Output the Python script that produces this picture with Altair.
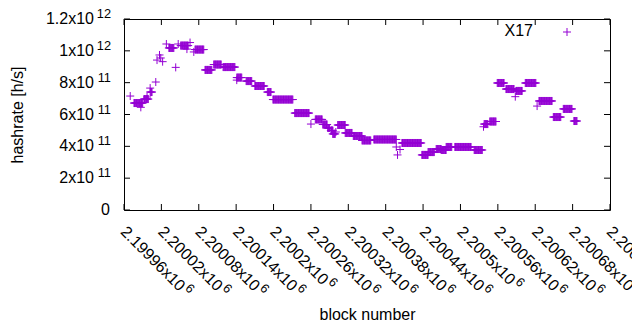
import altair as alt
import pandas as pd

# ---- data: runs of blocks sharing one hashrate ----
run_start = [2199970, 2199976, 2199987, 2199992, 2199997, 2200002, 2200002, 2200011, 2200013, 2200017,
             2200019, 2200022, 2200028, 2200032, 2200043, 2200047, 2200051, 2200061, 2200066, 2200072,
             2200074, 2200090, 2200104, 2200119, 2200141, 2200141, 2200156, 2200170, 2200190, 2200199,
             2200234, 2200260, 2200267, 2200279, 2200287, 2200292, 2200295, 2200300, 2200303, 2200315,
             2200328, 2200342, 2200361, 2200397, 2200399, 2200403, 2200406, 2200438, 2200448, 2200461,
             2200469, 2200477, 2200491, 2200522, 2200537, 2200538, 2200547, 2200559, 2200573, 2200588,
             2200589, 2200604, 2200623, 2200626, 2200649, 2200665, 2200682]
run_end = [2199970, 2199990, 2199987, 2199999, 2199997, 2200005, 2200002, 2200011, 2200013, 2200017,
           2200019, 2200022, 2200028, 2200040, 2200043, 2200047, 2200063, 2200061, 2200066, 2200072,
           2200088, 2200101, 2200116, 2200138, 2200149, 2200141, 2200165, 2200185, 2200196, 2200231,
           2200257, 2200260, 2200278, 2200286, 2200290, 2200295, 2200299, 2200300, 2200315, 2200326,
           2200342, 2200356, 2200397, 2200397, 2200399, 2200403, 2200437, 2200448, 2200458, 2200469,
           2200477, 2200486, 2200517, 2200535, 2200537, 2200544, 2200557, 2200570, 2200586, 2200588,
           2200599, 2200621, 2200623, 2200647, 2200661, 2200679, 2200687]
run_value = [7.16e11, 6.72e11, 6.45e11, 6.97e11, 7.10e11, 7.41e11, 7.66e11, 8.04e11, 9.42e11, 9.74e11,
             9.55e11, 9.32e11, 1.043e12, 1.018e12, 8.96e11, 1.043e12, 1.033e12, 1.011e12, 1.052e12, 9.93e11,
             1.008e12, 8.80e11, 9.14e11, 8.98e11, 8.32e11, 8.16e11, 8.10e11, 7.79e11, 7.41e11, 6.94e11,
             6.09e11, 5.40e11, 5.69e11, 5.37e11, 5.15e11, 5.00e11, 4.78e11, 4.90e11, 5.34e11, 4.84e11,
             4.65e11, 4.37e11, 4.43e11, 3.96e11, 3.46e11, 3.80e11, 4.21e11, 3.46e11, 3.64e11, 3.83e11,
             3.77e11, 3.96e11, 3.96e11, 3.77e11, 5.23e11, 5.40e11, 5.56e11, 7.98e11, 7.60e11, 7.12e11,
             7.48e11, 7.98e11, 6.53e11, 6.85e11, 5.84e11, 6.35e11, 5.59e11]

x_ticks = [2199960, 2200020, 2200080, 2200140, 2200200, 2200260, 2200320,
           2200380, 2200440, 2200500, 2200560, 2200620, 2200680, 2200740]
x_base = ["2.19996x10", "2.20002x10", "2.20008x10", "2.20014x10", "2.2002x10", "2.20026x10", "2.20032x10",
          "2.20038x10", "2.20044x10", "2.2005x10", "2.20056x10", "2.20062x10", "2.20068x10", "2.20074x10"]
x_exp = ["6"] * len(x_ticks)

y_ticks = [0, 2e11, 4e11, 6e11, 8e11, 1e12, 1.2e12]
y_base = ["0", "2x10", "4x10", "6x10", "8x10", "1x10", "1.2x10"]
y_exp = ["", "11", "11", "11", "11", "12", "12"]

series_name = "X17"

rows = [{"block": b, "hashrate": v}
        for s, e, v in zip(run_start, run_end, run_value) for b in range(s, e + 1)]
df = pd.DataFrame(rows)
xdf = pd.DataFrame({"block": x_ticks, "base": x_base, "exp": x_exp})
ydf = pd.DataFrame({"hashrate": y_ticks, "base": y_base, "exp": y_exp})
ldf = pd.DataFrame({"label": [series_name]})

FONT = "Liberation Sans"
FS = 16
EFS = 12.8
PURPLE = "#9400d3"
W, H = 486, 191


def X():
    return alt.X("block:Q",
                 scale=alt.Scale(domain=[2199960, 2200740], nice=False, zero=False),
                 axis=alt.Axis(title="block number", labels=False, ticks=False, domain=False,
                               grid=False, titleFont=FONT, titleFontSize=FS, titleFontWeight="normal",
                               titleColor="black", titleY=109, titleBaseline="alphabetic"))


def Y():
    return alt.Y("hashrate:Q",
                 scale=alt.Scale(domain=[0, 1.2e12], nice=False, zero=True),
                 axis=alt.Axis(title="hashrate [h/s]", labels=False, ticks=False, domain=False,
                               grid=False, titleFont=FONT, titleFontSize=FS, titleFontWeight="normal",
                               titleColor="black", titleAngle=270, titleX=-107, titleY=95.5,
                               titleAlign="center", titleBaseline="middle"))


plus = "M-1,0L1,0M0,-1L0,1"

points = alt.Chart(df).mark_point(shape=plus, filled=False, color=PURPLE, strokeWidth=1,
                                  size=64, opacity=1).encode(x=X(), y=Y())

# inward tick marks (gnuplot style)
ytick_l = alt.Chart(ydf).mark_rule(color="black", strokeWidth=1).encode(
    y=Y(), x=alt.value(0), x2=alt.value(6))
ytick_r = alt.Chart(ydf).mark_rule(color="black", strokeWidth=1).encode(
    y=Y(), x=alt.value(W - 6), x2=alt.value(W))
xtick_b = alt.Chart(xdf).mark_rule(color="black", strokeWidth=1).encode(
    x=X(), y=alt.value(H - 6), y2=alt.value(H))
xtick_t = alt.Chart(xdf).mark_rule(color="black", strokeWidth=1).encode(
    x=X(), y=alt.value(0), y2=alt.value(6))

# y tick labels
ylab = alt.Chart(ydf).transform_filter("datum.exp != ''").mark_text(
    font=FONT, fontSize=FS, align="right", baseline="middle", color="black").encode(
    y=Y(), x=alt.value(-30), text="base:N")
ylab0 = alt.Chart(ydf).transform_filter("datum.exp == ''").mark_text(
    font=FONT, fontSize=FS, align="right", baseline="middle", color="black").encode(
    y=Y(), x=alt.value(-14), text="base:N")
yexp = alt.Chart(ydf).transform_filter("datum.exp != ''").mark_text(
    font=FONT, fontSize=EFS, align="right", baseline="middle", color="black", dy=-5).encode(
    y=Y(), x=alt.value(-13), text="exp:N")

# x tick labels (rotated)
XL_Y = H + 20
SHIFT = -1.0
xlab = alt.Chart(xdf).mark_text(font=FONT, fontSize=FS, align="left", baseline="middle",
                                color="black", angle=45, dx=SHIFT).encode(
    x=X(), y=alt.value(XL_Y), text="base:N")
xexp_long = alt.Chart(xdf).transform_filter("length(datum.base) == 10").mark_text(
    font=FONT, fontSize=EFS, align="left", baseline="middle", color="black", angle=45,
    dx=85.6 + SHIFT, dy=-5).encode(x=X(), y=alt.value(XL_Y), text="exp:N")
xexp_short = alt.Chart(xdf).transform_filter("length(datum.base) == 9").mark_text(
    font=FONT, fontSize=EFS, align="left", baseline="middle", color="black", angle=45,
    dx=76.7 + SHIFT, dy=-5).encode(x=X(), y=alt.value(XL_Y), text="exp:N")

# key
key_text = alt.Chart(ldf).mark_text(font=FONT, fontSize=FS, align="right", baseline="middle",
                                    color="black").encode(
    x=alt.value(409), y=alt.value(12), text="label:N")
key_pt = alt.Chart(ldf).mark_point(shape=plus, filled=False, color=PURPLE, strokeWidth=1,
                                   size=64, opacity=1).encode(x=alt.value(443), y=alt.value(13))

chart = alt.layer(points, ytick_l, ytick_r, xtick_b, xtick_t, ylab, ylab0, yexp,
                  xlab, xexp_long, xexp_short, key_text, key_pt).properties(
    width=W, height=H,
    autosize=alt.AutoSizeParams(type="none"),
    padding={"left": 116, "top": 11, "right": 22, "bottom": 112},
    background="white",
).configure_view(stroke="black", strokeWidth=1)

chart.save("out.html", embed_options={"renderer": "svg", "actions": False})
